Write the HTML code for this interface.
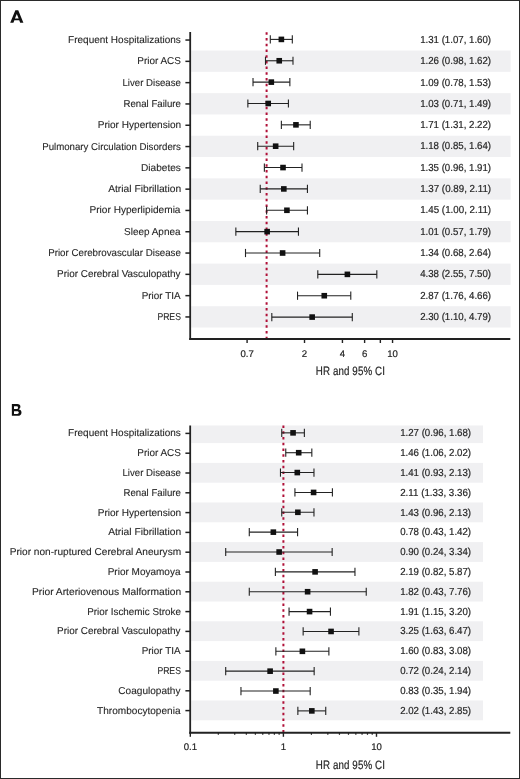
<!DOCTYPE html>
<html><head><meta charset="utf-8"><style>
html,body{margin:0;padding:0;background:#fff;}
body{width:520px;height:779px;overflow:hidden;}
svg{display:block;will-change:transform;}
text{font-family:"Liberation Sans", sans-serif;fill:#262626;stroke:#262626;stroke-width:0.3px;text-rendering:geometricPrecision;}
.lb{font-size:10.0px;stroke-width:0.1px;}
.vl{font-size:10.2px;stroke-width:0.2px;}
.tk{font-size:9.6px;stroke-width:0.2px;}
.ti{font-size:12.2px;stroke-width:0.2px;}
.le{font-size:18.75px;font-weight:bold;fill:#111;}
</style></head><body>
<svg width="520" height="779" viewBox="0 0 520 779">
<rect x="0" y="0" width="520" height="779" fill="#fff"/>
<rect x="191.2" y="50.51" width="319.40" height="21.31" fill="#f0f0f2"/>
<rect x="191.2" y="93.13" width="319.40" height="21.31" fill="#f0f0f2"/>
<rect x="191.2" y="135.75" width="319.40" height="21.31" fill="#f0f0f2"/>
<rect x="191.2" y="178.37" width="319.40" height="21.31" fill="#f0f0f2"/>
<rect x="191.2" y="220.99" width="319.40" height="21.31" fill="#f0f0f2"/>
<rect x="191.2" y="263.61" width="319.40" height="21.31" fill="#f0f0f2"/>
<rect x="191.2" y="306.23" width="319.40" height="21.31" fill="#f0f0f2"/>
<line x1="266.60" y1="32.15" x2="266.60" y2="339.00" stroke="#b01038" stroke-width="2.0" stroke-dasharray="2.5 3.245"/>
<line x1="270.30" y1="39.40" x2="292.31" y2="39.40" stroke="#222" stroke-width="1.1"/>
<line x1="270.30" y1="35.30" x2="270.30" y2="43.50" stroke="#222" stroke-width="1.1"/>
<line x1="292.31" y1="35.30" x2="292.31" y2="43.50" stroke="#222" stroke-width="1.1"/>
<rect x="278.57" y="36.60" width="5.6" height="5.6" fill="#111"/>
<line x1="185.4" y1="40.05" x2="190" y2="40.05" stroke="#222" stroke-width="1.5"/>
<text x="68.08" y="43.00" class="lb" textLength="112.78" lengthAdjust="spacingAndGlyphs">Frequent Hospitalizations</text>
<text x="420.17" y="42.95" class="vl" textLength="70.94" lengthAdjust="spacingAndGlyphs">1.31 (1.07, 1.60)</text>
<line x1="265.49" y1="60.76" x2="292.99" y2="60.76" stroke="#222" stroke-width="1.1"/>
<line x1="265.49" y1="56.66" x2="265.49" y2="64.86" stroke="#222" stroke-width="1.1"/>
<line x1="292.99" y1="56.66" x2="292.99" y2="64.86" stroke="#222" stroke-width="1.1"/>
<rect x="276.44" y="57.96" width="5.6" height="5.6" fill="#111"/>
<line x1="185.4" y1="61.35" x2="190" y2="61.35" stroke="#222" stroke-width="1.5"/>
<text x="137.28" y="64.30" class="lb" textLength="43.68" lengthAdjust="spacingAndGlyphs">Prior ACS</text>
<text x="420.17" y="64.25" class="vl" textLength="70.94" lengthAdjust="spacingAndGlyphs">1.26 (0.98, 1.62)</text>
<line x1="253.01" y1="82.12" x2="289.86" y2="82.12" stroke="#222" stroke-width="1.1"/>
<line x1="253.01" y1="78.02" x2="253.01" y2="86.22" stroke="#222" stroke-width="1.1"/>
<line x1="289.86" y1="78.02" x2="289.86" y2="86.22" stroke="#222" stroke-width="1.1"/>
<rect x="268.51" y="79.32" width="5.6" height="5.6" fill="#111"/>
<line x1="185.4" y1="82.65" x2="190" y2="82.65" stroke="#222" stroke-width="1.5"/>
<text x="122.51" y="85.60" class="lb" textLength="58.42" lengthAdjust="spacingAndGlyphs">Liver Disease</text>
<text x="420.17" y="85.55" class="vl" textLength="70.94" lengthAdjust="spacingAndGlyphs">1.09 (0.78, 1.53)</text>
<line x1="247.87" y1="103.48" x2="288.41" y2="103.48" stroke="#222" stroke-width="1.1"/>
<line x1="247.87" y1="99.38" x2="247.87" y2="107.58" stroke="#222" stroke-width="1.1"/>
<line x1="288.41" y1="99.38" x2="288.41" y2="107.58" stroke="#222" stroke-width="1.1"/>
<rect x="265.42" y="100.68" width="5.6" height="5.6" fill="#111"/>
<line x1="185.4" y1="103.95" x2="190" y2="103.95" stroke="#222" stroke-width="1.5"/>
<text x="123.51" y="106.90" class="lb" textLength="57.42" lengthAdjust="spacingAndGlyphs">Renal Failure</text>
<text x="420.17" y="106.85" class="vl" textLength="70.94" lengthAdjust="spacingAndGlyphs">1.03 (0.71, 1.49)</text>
<line x1="281.37" y1="124.84" x2="310.22" y2="124.84" stroke="#222" stroke-width="1.1"/>
<line x1="281.37" y1="120.74" x2="281.37" y2="128.94" stroke="#222" stroke-width="1.1"/>
<line x1="310.22" y1="120.74" x2="310.22" y2="128.94" stroke="#222" stroke-width="1.1"/>
<rect x="293.15" y="122.04" width="5.6" height="5.6" fill="#111"/>
<line x1="185.4" y1="125.25" x2="190" y2="125.25" stroke="#222" stroke-width="1.5"/>
<text x="97.67" y="128.20" class="lb" textLength="83.49" lengthAdjust="spacingAndGlyphs">Prior Hypertension</text>
<text x="420.17" y="128.15" class="vl" textLength="70.94" lengthAdjust="spacingAndGlyphs">1.71 (1.31, 2.22)</text>
<line x1="257.71" y1="146.20" x2="293.66" y2="146.20" stroke="#222" stroke-width="1.1"/>
<line x1="257.71" y1="142.10" x2="257.71" y2="150.30" stroke="#222" stroke-width="1.1"/>
<line x1="293.66" y1="142.10" x2="293.66" y2="150.30" stroke="#222" stroke-width="1.1"/>
<rect x="272.85" y="143.40" width="5.6" height="5.6" fill="#111"/>
<line x1="185.4" y1="146.55" x2="190" y2="146.55" stroke="#222" stroke-width="1.5"/>
<text x="42.21" y="149.50" class="lb" textLength="138.65" lengthAdjust="spacingAndGlyphs">Pulmonary Circulation Disorders</text>
<text x="420.17" y="149.45" class="vl" textLength="70.94" lengthAdjust="spacingAndGlyphs">1.18 (0.85, 1.64)</text>
<line x1="264.37" y1="167.56" x2="302.00" y2="167.56" stroke="#222" stroke-width="1.1"/>
<line x1="264.37" y1="163.46" x2="264.37" y2="171.66" stroke="#222" stroke-width="1.1"/>
<line x1="302.00" y1="163.46" x2="302.00" y2="171.66" stroke="#222" stroke-width="1.1"/>
<rect x="280.22" y="164.76" width="5.6" height="5.6" fill="#111"/>
<line x1="185.4" y1="167.85" x2="190" y2="167.85" stroke="#222" stroke-width="1.5"/>
<text x="140.97" y="170.80" class="lb" textLength="39.89" lengthAdjust="spacingAndGlyphs">Diabetes</text>
<text x="420.17" y="170.75" class="vl" textLength="70.94" lengthAdjust="spacingAndGlyphs">1.35 (0.96, 1.91)</text>
<line x1="260.23" y1="188.92" x2="307.44" y2="188.92" stroke="#222" stroke-width="1.1"/>
<line x1="260.23" y1="184.82" x2="260.23" y2="193.02" stroke="#222" stroke-width="1.1"/>
<line x1="307.44" y1="184.82" x2="307.44" y2="193.02" stroke="#222" stroke-width="1.1"/>
<rect x="281.02" y="186.12" width="5.6" height="5.6" fill="#111"/>
<line x1="185.4" y1="189.15" x2="190" y2="189.15" stroke="#222" stroke-width="1.5"/>
<text x="108.18" y="192.10" class="lb" textLength="72.99" lengthAdjust="spacingAndGlyphs">Atrial Fibrillation</text>
<text x="420.17" y="192.05" class="vl" textLength="70.94" lengthAdjust="spacingAndGlyphs">1.37 (0.89, 2.11)</text>
<line x1="266.60" y1="210.28" x2="307.44" y2="210.28" stroke="#222" stroke-width="1.1"/>
<line x1="266.60" y1="206.18" x2="266.60" y2="214.38" stroke="#222" stroke-width="1.1"/>
<line x1="307.44" y1="206.18" x2="307.44" y2="214.38" stroke="#222" stroke-width="1.1"/>
<rect x="284.12" y="207.48" width="5.6" height="5.6" fill="#111"/>
<line x1="185.4" y1="210.45" x2="190" y2="210.45" stroke="#222" stroke-width="1.5"/>
<text x="89.47" y="213.40" class="lb" textLength="91.03" lengthAdjust="spacingAndGlyphs">Prior Hyperlipidemia</text>
<text x="420.17" y="213.35" class="vl" textLength="70.94" lengthAdjust="spacingAndGlyphs">1.45 (1.00, 2.11)</text>
<line x1="235.85" y1="231.64" x2="298.45" y2="231.64" stroke="#222" stroke-width="1.1"/>
<line x1="235.85" y1="227.54" x2="235.85" y2="235.74" stroke="#222" stroke-width="1.1"/>
<line x1="298.45" y1="227.54" x2="298.45" y2="235.74" stroke="#222" stroke-width="1.1"/>
<rect x="264.34" y="228.84" width="5.6" height="5.6" fill="#111"/>
<line x1="185.4" y1="231.75" x2="190" y2="231.75" stroke="#222" stroke-width="1.5"/>
<text x="124.04" y="234.70" class="lb" textLength="56.46" lengthAdjust="spacingAndGlyphs">Sleep Apnea</text>
<text x="420.17" y="234.65" class="vl" textLength="70.94" lengthAdjust="spacingAndGlyphs">1.01 (0.57, 1.79)</text>
<line x1="245.50" y1="253.00" x2="319.70" y2="253.00" stroke="#222" stroke-width="1.1"/>
<line x1="245.50" y1="248.90" x2="245.50" y2="257.10" stroke="#222" stroke-width="1.1"/>
<line x1="319.70" y1="248.90" x2="319.70" y2="257.10" stroke="#222" stroke-width="1.1"/>
<rect x="279.81" y="250.20" width="5.6" height="5.6" fill="#111"/>
<line x1="185.4" y1="253.05" x2="190" y2="253.05" stroke="#222" stroke-width="1.5"/>
<text x="48.20" y="256.00" class="lb" textLength="132.73" lengthAdjust="spacingAndGlyphs">Prior Cerebrovascular Disease</text>
<text x="420.17" y="255.95" class="vl" textLength="70.94" lengthAdjust="spacingAndGlyphs">1.34 (0.68, 2.64)</text>
<line x1="317.80" y1="274.36" x2="376.82" y2="274.36" stroke="#222" stroke-width="1.1"/>
<line x1="317.80" y1="270.26" x2="317.80" y2="278.46" stroke="#222" stroke-width="1.1"/>
<line x1="376.82" y1="270.26" x2="376.82" y2="278.46" stroke="#222" stroke-width="1.1"/>
<rect x="344.59" y="271.56" width="5.6" height="5.6" fill="#111"/>
<line x1="185.4" y1="274.35" x2="190" y2="274.35" stroke="#222" stroke-width="1.5"/>
<text x="57.09" y="277.30" class="lb" textLength="123.43" lengthAdjust="spacingAndGlyphs">Prior Cerebral Vasculopathy</text>
<text x="420.17" y="277.25" class="vl" textLength="70.94" lengthAdjust="spacingAndGlyphs">4.38 (2.55, 7.50)</text>
<line x1="297.52" y1="295.72" x2="350.78" y2="295.72" stroke="#222" stroke-width="1.1"/>
<line x1="297.52" y1="291.62" x2="297.52" y2="299.82" stroke="#222" stroke-width="1.1"/>
<line x1="350.78" y1="291.62" x2="350.78" y2="299.82" stroke="#222" stroke-width="1.1"/>
<rect x="321.47" y="292.92" width="5.6" height="5.6" fill="#111"/>
<line x1="185.4" y1="295.65" x2="190" y2="295.65" stroke="#222" stroke-width="1.5"/>
<text x="141.69" y="298.60" class="lb" textLength="38.83" lengthAdjust="spacingAndGlyphs">Prior TIA</text>
<text x="420.17" y="298.55" class="vl" textLength="70.94" lengthAdjust="spacingAndGlyphs">2.87 (1.76, 4.66)</text>
<line x1="271.81" y1="317.08" x2="352.29" y2="317.08" stroke="#222" stroke-width="1.1"/>
<line x1="271.81" y1="312.98" x2="271.81" y2="321.18" stroke="#222" stroke-width="1.1"/>
<line x1="352.29" y1="312.98" x2="352.29" y2="321.18" stroke="#222" stroke-width="1.1"/>
<rect x="309.36" y="314.28" width="5.6" height="5.6" fill="#111"/>
<line x1="185.4" y1="316.95" x2="190" y2="316.95" stroke="#222" stroke-width="1.5"/>
<text x="157.39" y="319.90" class="lb" textLength="23.51" lengthAdjust="spacingAndGlyphs">PRES</text>
<text x="420.17" y="319.85" class="vl" textLength="70.94" lengthAdjust="spacingAndGlyphs">2.30 (1.10, 4.79)</text>
<line x1="190.2" y1="32.00" x2="190.2" y2="339.90" stroke="#222" stroke-width="1.8"/>
<line x1="189.3" y1="339.00" x2="510.3" y2="339.00" stroke="#222" stroke-width="1.9"/>
<line x1="247.09" y1="339.00" x2="247.09" y2="343.00" stroke="#222" stroke-width="1.4"/>
<line x1="304.52" y1="339.00" x2="304.52" y2="343.00" stroke="#222" stroke-width="1.4"/>
<line x1="342.43" y1="339.00" x2="342.43" y2="343.00" stroke="#222" stroke-width="1.4"/>
<line x1="364.61" y1="339.00" x2="364.61" y2="343.00" stroke="#222" stroke-width="1.4"/>
<line x1="380.35" y1="339.00" x2="380.35" y2="343.00" stroke="#222" stroke-width="1.4"/>
<line x1="392.55" y1="339.00" x2="392.55" y2="343.00" stroke="#222" stroke-width="1.4"/>
<text x="247.09" y="356.80" text-anchor="middle" class="tk">0.7</text>
<text x="304.52" y="356.80" text-anchor="middle" class="tk">2</text>
<text x="342.43" y="356.80" text-anchor="middle" class="tk">4</text>
<text x="364.61" y="356.80" text-anchor="middle" class="tk">6</text>
<text x="392.55" y="356.80" text-anchor="middle" class="tk">10</text>
<text transform="scale(0.8,1)" x="394.75" y="374.90" class="ti" textLength="86.37" lengthAdjust="spacing">HR and 95% CI</text>
<path fill-rule="evenodd" fill="#111" d="M10.2,22.65 L15.35,10.2 L18.25,10.2 L23.4,22.65 L20.2,22.65 L19.22,20.3 L14.38,20.3 L13.4,22.65 Z M14.95,18.6 L18.65,18.6 L16.8,13.9 Z"/>
<rect x="191.2" y="425.50" width="291.80" height="17.60" fill="#f0f0f2"/>
<rect x="191.2" y="462.90" width="291.80" height="19.80" fill="#f0f0f2"/>
<rect x="191.2" y="502.50" width="291.80" height="19.80" fill="#f0f0f2"/>
<rect x="191.2" y="542.10" width="291.80" height="19.80" fill="#f0f0f2"/>
<rect x="191.2" y="581.70" width="291.80" height="19.80" fill="#f0f0f2"/>
<rect x="191.2" y="621.30" width="291.80" height="19.80" fill="#f0f0f2"/>
<rect x="191.2" y="660.90" width="291.80" height="19.80" fill="#f0f0f2"/>
<rect x="191.2" y="700.50" width="291.80" height="19.80" fill="#f0f0f2"/>
<line x1="283.40" y1="425.44" x2="283.40" y2="732.80" stroke="#b01038" stroke-width="2.0" stroke-dasharray="2.5 3.245"/>
<line x1="281.75" y1="432.85" x2="304.37" y2="432.85" stroke="#222" stroke-width="1.1"/>
<line x1="281.75" y1="428.75" x2="281.75" y2="436.95" stroke="#222" stroke-width="1.1"/>
<line x1="304.37" y1="428.75" x2="304.37" y2="436.95" stroke="#222" stroke-width="1.1"/>
<rect x="290.26" y="430.05" width="5.6" height="5.6" fill="#111"/>
<line x1="185.4" y1="433.40" x2="190" y2="433.40" stroke="#222" stroke-width="1.5"/>
<text x="68.08" y="436.35" class="lb" textLength="112.78" lengthAdjust="spacingAndGlyphs">Frequent Hospitalizations</text>
<text x="400.17" y="436.30" class="vl" textLength="70.94" lengthAdjust="spacingAndGlyphs">1.27 (0.96, 1.68)</text>
<line x1="285.76" y1="452.71" x2="311.83" y2="452.71" stroke="#222" stroke-width="1.1"/>
<line x1="285.76" y1="448.61" x2="285.76" y2="456.81" stroke="#222" stroke-width="1.1"/>
<line x1="311.83" y1="448.61" x2="311.83" y2="456.81" stroke="#222" stroke-width="1.1"/>
<rect x="295.90" y="449.91" width="5.6" height="5.6" fill="#111"/>
<line x1="185.4" y1="453.20" x2="190" y2="453.20" stroke="#222" stroke-width="1.5"/>
<text x="137.28" y="456.15" class="lb" textLength="43.68" lengthAdjust="spacingAndGlyphs">Prior ACS</text>
<text x="400.17" y="456.10" class="vl" textLength="70.94" lengthAdjust="spacingAndGlyphs">1.46 (1.06, 2.02)</text>
<line x1="280.47" y1="472.57" x2="313.97" y2="472.57" stroke="#222" stroke-width="1.1"/>
<line x1="280.47" y1="468.47" x2="280.47" y2="476.67" stroke="#222" stroke-width="1.1"/>
<line x1="313.97" y1="468.47" x2="313.97" y2="476.67" stroke="#222" stroke-width="1.1"/>
<rect x="294.49" y="469.77" width="5.6" height="5.6" fill="#111"/>
<line x1="185.4" y1="473.00" x2="190" y2="473.00" stroke="#222" stroke-width="1.5"/>
<text x="122.51" y="475.95" class="lb" textLength="58.42" lengthAdjust="spacingAndGlyphs">Liver Disease</text>
<text x="400.17" y="475.90" class="vl" textLength="70.94" lengthAdjust="spacingAndGlyphs">1.41 (0.93, 2.13)</text>
<line x1="294.93" y1="492.43" x2="332.40" y2="492.43" stroke="#222" stroke-width="1.1"/>
<line x1="294.93" y1="488.33" x2="294.93" y2="496.53" stroke="#222" stroke-width="1.1"/>
<line x1="332.40" y1="488.33" x2="332.40" y2="496.53" stroke="#222" stroke-width="1.1"/>
<rect x="310.79" y="489.63" width="5.6" height="5.6" fill="#111"/>
<line x1="185.4" y1="492.80" x2="190" y2="492.80" stroke="#222" stroke-width="1.5"/>
<text x="123.51" y="495.75" class="lb" textLength="57.42" lengthAdjust="spacingAndGlyphs">Renal Failure</text>
<text x="400.17" y="495.70" class="vl" textLength="70.94" lengthAdjust="spacingAndGlyphs">2.11 (1.33, 3.36)</text>
<line x1="281.75" y1="512.29" x2="313.97" y2="512.29" stroke="#222" stroke-width="1.1"/>
<line x1="281.75" y1="508.19" x2="281.75" y2="516.39" stroke="#222" stroke-width="1.1"/>
<line x1="313.97" y1="508.19" x2="313.97" y2="516.39" stroke="#222" stroke-width="1.1"/>
<rect x="295.06" y="509.49" width="5.6" height="5.6" fill="#111"/>
<line x1="185.4" y1="512.60" x2="190" y2="512.60" stroke="#222" stroke-width="1.5"/>
<text x="97.67" y="515.55" class="lb" textLength="83.49" lengthAdjust="spacingAndGlyphs">Prior Hypertension</text>
<text x="400.17" y="515.50" class="vl" textLength="70.94" lengthAdjust="spacingAndGlyphs">1.43 (0.96, 2.13)</text>
<line x1="249.28" y1="532.15" x2="297.58" y2="532.15" stroke="#222" stroke-width="1.1"/>
<line x1="249.28" y1="528.05" x2="249.28" y2="536.25" stroke="#222" stroke-width="1.1"/>
<line x1="297.58" y1="528.05" x2="297.58" y2="536.25" stroke="#222" stroke-width="1.1"/>
<rect x="270.55" y="529.35" width="5.6" height="5.6" fill="#111"/>
<line x1="185.4" y1="532.40" x2="190" y2="532.40" stroke="#222" stroke-width="1.5"/>
<text x="108.18" y="535.35" class="lb" textLength="72.99" lengthAdjust="spacingAndGlyphs">Atrial Fibrillation</text>
<text x="400.17" y="535.30" class="vl" textLength="70.94" lengthAdjust="spacingAndGlyphs">0.78 (0.43, 1.42)</text>
<line x1="225.70" y1="552.01" x2="332.16" y2="552.01" stroke="#222" stroke-width="1.1"/>
<line x1="225.70" y1="547.91" x2="225.70" y2="556.11" stroke="#222" stroke-width="1.1"/>
<line x1="332.16" y1="547.91" x2="332.16" y2="556.11" stroke="#222" stroke-width="1.1"/>
<rect x="276.34" y="549.21" width="5.6" height="5.6" fill="#111"/>
<line x1="185.4" y1="552.20" x2="190" y2="552.20" stroke="#222" stroke-width="1.5"/>
<text x="9.67" y="555.15" class="lb" textLength="171.50" lengthAdjust="spacingAndGlyphs">Prior non-ruptured Cerebral Aneurysm</text>
<text x="400.17" y="555.10" class="vl" textLength="70.94" lengthAdjust="spacingAndGlyphs">0.90 (0.24, 3.34)</text>
<line x1="275.38" y1="571.87" x2="354.96" y2="571.87" stroke="#222" stroke-width="1.1"/>
<line x1="275.38" y1="567.77" x2="275.38" y2="575.97" stroke="#222" stroke-width="1.1"/>
<line x1="354.96" y1="567.77" x2="354.96" y2="575.97" stroke="#222" stroke-width="1.1"/>
<rect x="312.29" y="569.07" width="5.6" height="5.6" fill="#111"/>
<line x1="185.4" y1="572.00" x2="190" y2="572.00" stroke="#222" stroke-width="1.5"/>
<text x="107.68" y="574.95" class="lb" textLength="72.82" lengthAdjust="spacingAndGlyphs">Prior Moyamoya</text>
<text x="400.17" y="574.90" class="vl" textLength="70.94" lengthAdjust="spacingAndGlyphs">2.19 (0.82, 5.87)</text>
<line x1="249.28" y1="591.73" x2="366.24" y2="591.73" stroke="#222" stroke-width="1.1"/>
<line x1="249.28" y1="587.63" x2="249.28" y2="595.83" stroke="#222" stroke-width="1.1"/>
<line x1="366.24" y1="587.63" x2="366.24" y2="595.83" stroke="#222" stroke-width="1.1"/>
<rect x="304.81" y="588.93" width="5.6" height="5.6" fill="#111"/>
<line x1="185.4" y1="591.80" x2="190" y2="591.80" stroke="#222" stroke-width="1.5"/>
<text x="31.96" y="594.75" class="lb" textLength="149.21" lengthAdjust="spacingAndGlyphs">Prior Arteriovenous Malformation</text>
<text x="400.17" y="594.70" class="vl" textLength="70.94" lengthAdjust="spacingAndGlyphs">1.82 (0.43, 7.76)</text>
<line x1="289.05" y1="611.59" x2="330.43" y2="611.59" stroke="#222" stroke-width="1.1"/>
<line x1="289.05" y1="607.49" x2="289.05" y2="615.69" stroke="#222" stroke-width="1.1"/>
<line x1="330.43" y1="607.49" x2="330.43" y2="615.69" stroke="#222" stroke-width="1.1"/>
<rect x="306.76" y="608.79" width="5.6" height="5.6" fill="#111"/>
<line x1="185.4" y1="611.60" x2="190" y2="611.60" stroke="#222" stroke-width="1.5"/>
<text x="87.19" y="614.55" class="lb" textLength="93.75" lengthAdjust="spacingAndGlyphs">Prior Ischemic Stroke</text>
<text x="400.17" y="614.50" class="vl" textLength="70.94" lengthAdjust="spacingAndGlyphs">1.91 (1.15, 3.20)</text>
<line x1="303.15" y1="631.45" x2="358.89" y2="631.45" stroke="#222" stroke-width="1.1"/>
<line x1="303.15" y1="627.35" x2="303.15" y2="635.55" stroke="#222" stroke-width="1.1"/>
<line x1="358.89" y1="627.35" x2="358.89" y2="635.55" stroke="#222" stroke-width="1.1"/>
<rect x="328.25" y="628.65" width="5.6" height="5.6" fill="#111"/>
<line x1="185.4" y1="631.40" x2="190" y2="631.40" stroke="#222" stroke-width="1.5"/>
<text x="57.09" y="634.35" class="lb" textLength="123.43" lengthAdjust="spacingAndGlyphs">Prior Cerebral Vasculopathy</text>
<text x="400.17" y="634.30" class="vl" textLength="70.94" lengthAdjust="spacingAndGlyphs">3.25 (1.63, 6.47)</text>
<line x1="275.87" y1="651.31" x2="328.88" y2="651.31" stroke="#222" stroke-width="1.1"/>
<line x1="275.87" y1="647.21" x2="275.87" y2="655.41" stroke="#222" stroke-width="1.1"/>
<line x1="328.88" y1="647.21" x2="328.88" y2="655.41" stroke="#222" stroke-width="1.1"/>
<rect x="299.60" y="648.51" width="5.6" height="5.6" fill="#111"/>
<line x1="185.4" y1="651.20" x2="190" y2="651.20" stroke="#222" stroke-width="1.5"/>
<text x="141.69" y="654.15" class="lb" textLength="38.83" lengthAdjust="spacingAndGlyphs">Prior TIA</text>
<text x="400.17" y="654.10" class="vl" textLength="70.94" lengthAdjust="spacingAndGlyphs">1.60 (0.83, 3.08)</text>
<line x1="225.70" y1="671.17" x2="314.16" y2="671.17" stroke="#222" stroke-width="1.1"/>
<line x1="225.70" y1="667.07" x2="225.70" y2="675.27" stroke="#222" stroke-width="1.1"/>
<line x1="314.16" y1="667.07" x2="314.16" y2="675.27" stroke="#222" stroke-width="1.1"/>
<rect x="267.32" y="668.37" width="5.6" height="5.6" fill="#111"/>
<line x1="185.4" y1="671.00" x2="190" y2="671.00" stroke="#222" stroke-width="1.5"/>
<text x="157.39" y="673.95" class="lb" textLength="23.51" lengthAdjust="spacingAndGlyphs">PRES</text>
<text x="400.17" y="673.90" class="vl" textLength="70.94" lengthAdjust="spacingAndGlyphs">0.72 (0.24, 2.14)</text>
<line x1="240.96" y1="691.03" x2="310.19" y2="691.03" stroke="#222" stroke-width="1.1"/>
<line x1="240.96" y1="686.93" x2="240.96" y2="695.13" stroke="#222" stroke-width="1.1"/>
<line x1="310.19" y1="686.93" x2="310.19" y2="695.13" stroke="#222" stroke-width="1.1"/>
<rect x="273.07" y="688.23" width="5.6" height="5.6" fill="#111"/>
<line x1="185.4" y1="690.80" x2="190" y2="690.80" stroke="#222" stroke-width="1.5"/>
<text x="118.29" y="693.75" class="lb" textLength="62.24" lengthAdjust="spacingAndGlyphs">Coagulopathy</text>
<text x="400.17" y="693.70" class="vl" textLength="70.94" lengthAdjust="spacingAndGlyphs">0.83 (0.35, 1.94)</text>
<line x1="297.86" y1="710.89" x2="325.74" y2="710.89" stroke="#222" stroke-width="1.1"/>
<line x1="297.86" y1="706.79" x2="297.86" y2="714.99" stroke="#222" stroke-width="1.1"/>
<line x1="325.74" y1="706.79" x2="325.74" y2="714.99" stroke="#222" stroke-width="1.1"/>
<rect x="309.03" y="708.09" width="5.6" height="5.6" fill="#111"/>
<line x1="185.4" y1="710.60" x2="190" y2="710.60" stroke="#222" stroke-width="1.5"/>
<text x="97.08" y="713.55" class="lb" textLength="83.42" lengthAdjust="spacingAndGlyphs">Thrombocytopenia</text>
<text x="400.17" y="713.50" class="vl" textLength="70.94" lengthAdjust="spacingAndGlyphs">2.02 (1.43, 2.85)</text>
<line x1="190.2" y1="425.50" x2="190.2" y2="733.70" stroke="#222" stroke-width="1.8"/>
<line x1="189.3" y1="732.80" x2="510.3" y2="732.80" stroke="#222" stroke-width="1.9"/>
<line x1="190.31" y1="732.80" x2="190.31" y2="736.80" stroke="#222" stroke-width="1.4"/>
<line x1="283.40" y1="732.80" x2="283.40" y2="736.80" stroke="#222" stroke-width="1.4"/>
<line x1="376.49" y1="732.80" x2="376.49" y2="736.80" stroke="#222" stroke-width="1.4"/>
<line x1="218.33" y1="732.80" x2="218.33" y2="734.80" stroke="#222" stroke-width="1.2"/>
<line x1="234.72" y1="732.80" x2="234.72" y2="734.80" stroke="#222" stroke-width="1.2"/>
<line x1="246.35" y1="732.80" x2="246.35" y2="734.80" stroke="#222" stroke-width="1.2"/>
<line x1="255.38" y1="732.80" x2="255.38" y2="734.80" stroke="#222" stroke-width="1.2"/>
<line x1="262.75" y1="732.80" x2="262.75" y2="734.80" stroke="#222" stroke-width="1.2"/>
<line x1="268.98" y1="732.80" x2="268.98" y2="734.80" stroke="#222" stroke-width="1.2"/>
<line x1="274.38" y1="732.80" x2="274.38" y2="734.80" stroke="#222" stroke-width="1.2"/>
<line x1="279.14" y1="732.80" x2="279.14" y2="734.80" stroke="#222" stroke-width="1.2"/>
<line x1="311.42" y1="732.80" x2="311.42" y2="734.80" stroke="#222" stroke-width="1.2"/>
<line x1="327.82" y1="732.80" x2="327.82" y2="734.80" stroke="#222" stroke-width="1.2"/>
<line x1="339.45" y1="732.80" x2="339.45" y2="734.80" stroke="#222" stroke-width="1.2"/>
<line x1="348.47" y1="732.80" x2="348.47" y2="734.80" stroke="#222" stroke-width="1.2"/>
<line x1="355.84" y1="732.80" x2="355.84" y2="734.80" stroke="#222" stroke-width="1.2"/>
<line x1="362.07" y1="732.80" x2="362.07" y2="734.80" stroke="#222" stroke-width="1.2"/>
<line x1="367.47" y1="732.80" x2="367.47" y2="734.80" stroke="#222" stroke-width="1.2"/>
<line x1="372.23" y1="732.80" x2="372.23" y2="734.80" stroke="#222" stroke-width="1.2"/>
<text x="190.31" y="750.30" text-anchor="middle" class="tk">0.1</text>
<text x="283.40" y="750.30" text-anchor="middle" class="tk">1</text>
<text x="376.49" y="750.30" text-anchor="middle" class="tk">10</text>
<text transform="scale(0.8,1)" x="394.75" y="768.50" class="ti" textLength="86.37" lengthAdjust="spacing">HR and 95% CI</text>
<path fill-rule="evenodd" fill="#111" d="M11.85,403.9 H17.3 C19.3,403.9 20.4,405.0 20.4,406.6 C20.4,407.9 19.7,408.8 18.7,409.2 C20.3,409.6 21.5,410.6 21.5,412.4 C21.5,414.5 20.0,415.8 17.6,415.8 H11.85 Z M14.0,406.3 H16.9 C17.6,406.3 18.0,406.9 18.0,407.7 C18.0,408.5 17.5,409.1 16.8,409.1 H14.0 Z M14.0,411.2 H17.3 C18.2,411.2 18.8,411.8 18.8,412.6 C18.8,413.4 18.2,413.9 17.3,413.9 H14.0 Z"/>
<rect x="0.5" y="0.5" width="519" height="778" fill="none" stroke="#2a2a2a" stroke-width="1"/>
</svg>
</body></html>
